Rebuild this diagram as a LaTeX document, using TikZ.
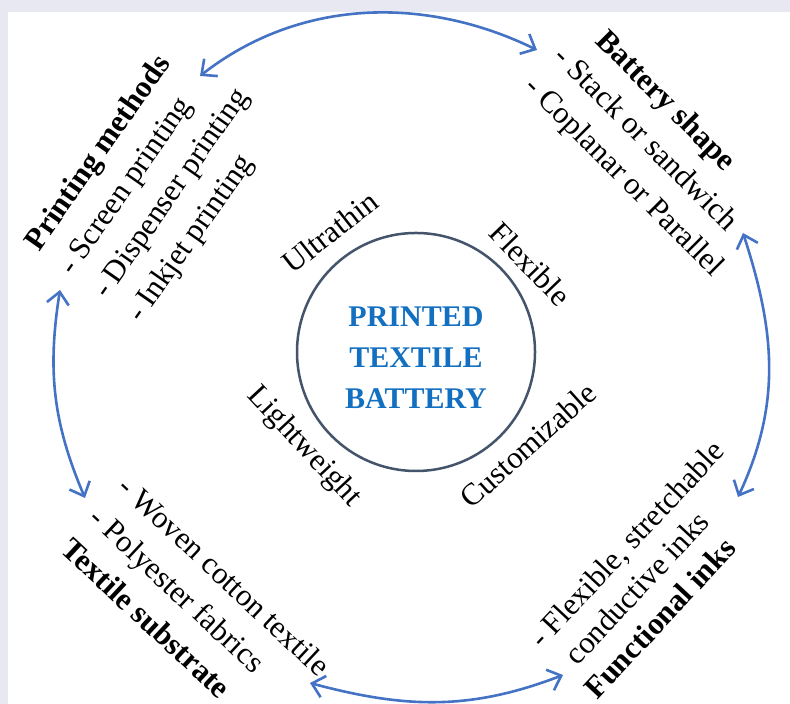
\documentclass[tikz,border=0pt]{standalone}
\usepackage{fontspec}
\setmainfont{Liberation Serif}
\usepackage{xcolor}
\usetikzlibrary{arrows.meta}

\definecolor{pagebg}{RGB}{231,232,242}
\definecolor{ringcol}{RGB}{68,84,106}
\definecolor{titleblue}{RGB}{19,111,192}
\definecolor{arrowblue}{RGB}{68,114,196}

\begin{document}
\begin{tikzpicture}[
  x=0.5pt, y=0.5pt,
  block/.style={align=left, font=\fontsize{15.5}{20.75}\selectfont,
    inner sep=0pt, anchor=base west},
  trait/.style={font=\fontsize{15.5}{18}\selectfont, inner sep=0pt},
  ring/.style={circle, draw=ringcol, line width=1.25pt, minimum size=119pt},
  coretext/.style={align=center, text=titleblue, text depth=0pt, inner sep=0pt,
    font=\fontsize{15}{20.5}\selectfont\bfseries},
  arrow/.style={{Straight Barb[length=6pt,width=11pt]}-{Straight Barb[length=6pt,width=11pt]},
    line width=1.3pt, draw=arrowblue}
]
\useasboundingbox (0,0) rectangle (790,704);
\fill[pagebg] (0,0) rectangle (790,704);
\fill[white] (8,0) rectangle (790,692);

% centre
\node (battery) [ring] at (416,352) {};
\node (title) [coretext] at (416,346) {PRINTED\\TEXTILE\\BATTERY};

% properties round the centre
\node (thin) [trait, rotate=38] at (330,472) {Ultrathin};
\node (flex) [trait, rotate=-46] at (530,440) {Flexible};
\node (light) [trait, rotate=-47] at (304,257) {Lightweight};
\node (custom) [trait, rotate=42] at (528,259) {Customizable};

% outer blocks (anchored on their last line)
\node (printing) [block, rotate=55] at (141,380)
  {\textbf{Printing methods}\\- Screen printing\\- Dispenser printing\\- Inkjet printing};
\node (shape) [block, rotate=-45] at (523,616)
  {\hspace{9pt}\textbf{Battery shape}\\- Stack or sandwich\\- Coplanar or Parallel};
\node (inks) [block, rotate=47, font=\fontsize{15.5}{18.75}\selectfont] at (597,3)
  {- Flexible, stretchable\\\hspace{5.75pt}conductive inks\\\textbf{Functional inks}};
\node (substrate) [block, rotate=-43, font=\fontsize{15.5}{21}\selectfont] at (59,153)
  {- Woven cotton textile\\- Polyester fabrics\\\textbf{Textile substrate}};

% arrow ends
\coordinate (pm-a) at (200,628);
\coordinate (bs-a) at (537,654);
\coordinate (bs-b) at (743,471);
\coordinate (fi-a) at (738,207);
\coordinate (fi-b) at (563,29);
\coordinate (ts-a) at (310,21);
\coordinate (ts-b) at (85,206);
\coordinate (pm-b) at (60,414);

\draw[arrow] (pm-a) to[out=38, in=154, looseness=0.95] (bs-a);
\draw[arrow] (bs-b) to[out=-72, in=65] (fi-a);
\draw[arrow] (ts-a) to[out=-15, in=-159] (fi-b);
\draw[arrow] (pm-b) to[out=-99, in=113] (ts-b);
\end{tikzpicture}
\end{document}
